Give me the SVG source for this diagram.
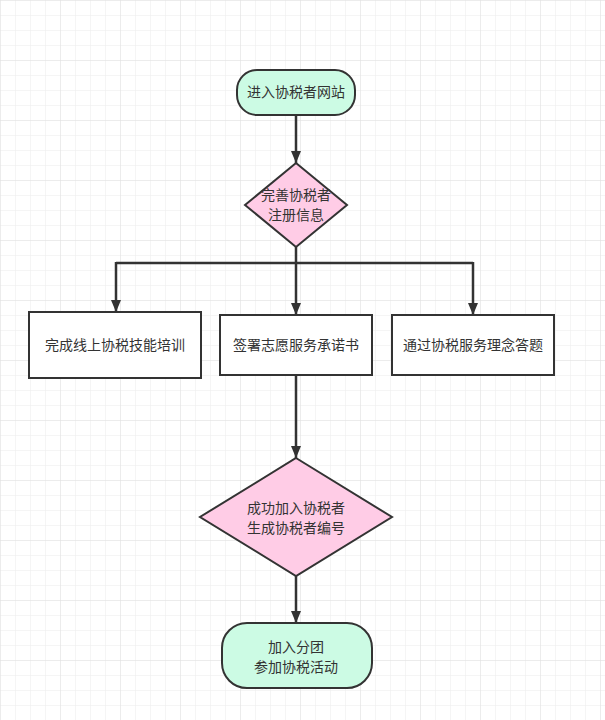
<svg xmlns="http://www.w3.org/2000/svg" width="605" height="720" viewBox="0 0 605 720">
<defs>
<pattern id="minor" width="15" height="15" patternUnits="userSpaceOnUse">
<path d="M15 0H0V15" fill="none" stroke="#ececec" stroke-width="1"/>
</pattern>
<pattern id="major" width="60" height="60" patternUnits="userSpaceOnUse">
<rect width="60" height="60" fill="url(#minor)"/>
<path d="M60 0H0V60" fill="none" stroke="#e2e2e2" stroke-width="1"/>
</pattern>
<marker id="ah" viewBox="0 0 12 12" markerWidth="12" markerHeight="12" refX="12" refY="6" orient="auto" markerUnits="userSpaceOnUse">
<path d="M0 1L12 6L0 11Z" fill="#333"/>
</marker>
</defs>
<style>
.term{fill:#ccfbe4;stroke:#333;stroke-width:2}
.dec{fill:#ffcce6;stroke:#333;stroke-width:2}
.box{fill:#fff;stroke:#333;stroke-width:2}
.edge{fill:none;stroke:#333;stroke-width:2.5}
text{font-family:"Noto Sans CJK SC","Liberation Sans",sans-serif;font-size:14px;fill:#333;text-anchor:middle}
</style>
<rect width="605" height="720" fill="#fff"/>
<rect width="605" height="720" fill="url(#major)"/>
<g id="connectors">
<path class="edge" d="M296 115V163" marker-end="url(#ah)"/>
<path class="edge" d="M296 247V315" marker-end="url(#ah)"/>
<path class="edge" d="M116 263H473"/>
<path class="edge" d="M116 262V312" marker-end="url(#ah)"/>
<path class="edge" d="M473 262V315" marker-end="url(#ah)"/>
<path class="edge" d="M296 375V458" marker-end="url(#ah)"/>
<path class="edge" d="M296 576V623" marker-end="url(#ah)"/>
</g>
<g id="start">
<rect class="term" x="237" y="70" width="118" height="45" rx="20"/>
<text x="296" y="97">进入协税者网站</text>
</g>
<g id="d1">
<path class="dec" d="M296 163L347 205L296 247L245 205Z"/>
<text x="296" y="200">完善协税者</text>
<text x="296" y="220">注册信息</text>
</g>
<g id="b1">
<rect class="box" x="29" y="312" width="172" height="66"/>
<text x="115" y="350">完成线上协税技能培训</text>
</g>
<g id="b2">
<rect class="box" x="220" y="315" width="152" height="60"/>
<text x="296" y="350">签署志愿服务承诺书</text>
</g>
<g id="b3">
<rect class="box" x="392" y="315" width="162" height="60"/>
<text x="473" y="350">通过协税服务理念答题</text>
</g>
<g id="d2">
<path class="dec" d="M296 458L392 517L296 576L200 517Z"/>
<text x="296" y="513">成功加入协税者</text>
<text x="296" y="533">生成协税者编号</text>
</g>
<g id="end">
<rect class="term" x="222" y="623" width="150" height="65" rx="25"/>
<text x="296" y="652">加入分团</text>
<text x="296" y="672">参加协税活动</text>
</g>
</svg>
